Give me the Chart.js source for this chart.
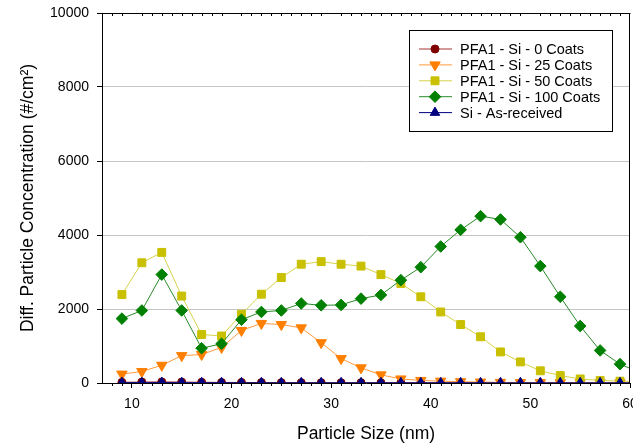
<!DOCTYPE html>
<html>
<head>
<meta charset="utf-8">
<script src="https://cdn.jsdelivr.net/npm/chart.js@4"></script>
<style>
  body { margin: 0; background: #fff; }
  #wrap { width: 633px; height: 448px; }
</style>
</head>
<body>
<div id="wrap"><canvas id="myChart" width="633" height="448"></canvas></div>
<script>
// particle size (nm)
var sizes = [9, 11, 13, 15, 17, 19, 21, 23, 25, 27, 29, 31, 33, 35, 37, 39, 41, 43, 45, 47, 49, 51, 53, 55, 57, 59, 61];

var coats0 = [20, 25, 30, 25, 20, 15, 15, 12, 10, 10, 8, 8, 8, 6, 6, 5, 5, 5, 5, 5, 5, 5, 5, 5, 5, 5, 5];
var coats25 = [240, 310, 480, 740, 770, 960, 1420, 1610, 1580, 1490, 1090, 660, 410, 220, 110, 70, 50, 35, 25, 18, 12, 10, 8, 6, 5, 5, 5];
var coats50 = [2390, 3250, 3530, 2350, 1310, 1270, 1860, 2400, 2850, 3210, 3280, 3210, 3160, 2930, 2690, 2330, 1920, 1580, 1250, 840, 570, 330, 200, 110, 70, 50, 40];
var coats100 = [1740, 1960, 2930, 1960, 940, 1060, 1710, 1920, 1960, 2150, 2100, 2110, 2280, 2380, 2780, 3130, 3690, 4140, 4510, 4420, 3940, 3160, 2330, 1540, 880, 510, 280];
var asReceived = [10, 10, 12, 10, 8, 8, 6, 6, 5, 5, 5, 5, 5, 5, 5, 5, 5, 5, 5, 5, 5, 5, 5, 5, 5, 5, 5];

var xTicks = [10, 20, 30, 40, 50, 60];
var yTicks = [0, 2000, 4000, 6000, 8000, 10000];

var FONT = '"Liberation Sans", Arial, sans-serif';

function pts(vals) {
  return vals.map(function (v, i) { return { x: sizes[i], y: v }; });
}

function series(label, vals, line, fill, style, radius, rot, order) {
  return {
    label: label,
    data: pts(vals),
    borderColor: line,
    backgroundColor: fill,
    borderWidth: 1,
    pointStyle: style,
    pointRadius: radius,
    pointRotation: rot,
    pointBackgroundColor: fill,
    pointBorderColor: fill,
    pointBorderWidth: 1,
    tension: 0,
    order: order
  };
}

// frame on top / right and minor ticks
var framePlugin = {
  id: "frame",
  afterDatasetsDraw: function (chart) {
    var ctx = chart.ctx;
    var a = chart.chartArea;
    var xs = chart.scales.x;
    ctx.save();
    ctx.strokeStyle = "#000";
    ctx.lineWidth = 1;
    ctx.beginPath();
    ctx.moveTo(a.left - 5, Math.round(a.top) + 0.5);
    ctx.lineTo(a.right + 0.5, Math.round(a.top) + 0.5);
    ctx.moveTo(Math.round(a.right) - 0.5, a.top);
    ctx.lineTo(Math.round(a.right) - 0.5, a.bottom);
    for (var v = 8; v < 60; v++) {
      if (v % 10 == 0) continue;
      var px = Math.round(xs.getPixelForValue(v)) + 0.5;
      ctx.moveTo(px, a.bottom);
      ctx.lineTo(px, a.bottom + 3);
      ctx.moveTo(px, a.top);
      ctx.lineTo(px, a.top + 3);
    }
    ctx.stroke();
    ctx.restore();
  }
};

var legendPlugin = {
  id: "boxLegend",
  afterDraw: function (chart) {
    var ctx = chart.ctx;
    var a = chart.chartArea;
    var bx = a.right - 221, by = a.top + 17, bw = 203, bh = 101;
    ctx.save();
    ctx.fillStyle = "#fff";
    ctx.fillRect(bx, by, bw, bh);
    ctx.strokeStyle = "#000";
    ctx.lineWidth = 1;
    ctx.strokeRect(bx + 0.5, by + 0.5, bw, bh);
    chart.data.datasets.forEach(function (ds, i) {
      var y = by + 19 + i * 15.9;
      ctx.strokeStyle = ds.borderColor;
      ctx.lineWidth = 1;
      ctx.beginPath();
      ctx.moveTo(bx + 10, y);
      ctx.lineTo(bx + 43, y);
      ctx.stroke();
      ctx.fillStyle = ds.pointBackgroundColor;
      ctx.strokeStyle = ds.pointBorderColor;
      Chart.helpers.drawPoint(ctx, {
        pointStyle: ds.pointStyle,
        radius: ds.pointRadius,
        rotation: ds.pointRotation,
        borderWidth: 1
      }, bx + 26, y);
      ctx.fillStyle = "#000";
      ctx.font = "14.5px " + FONT;
      ctx.textBaseline = "middle";
      ctx.textAlign = "left";
      ctx.fillText(ds.label, bx + 51, y + 1);
    });
    ctx.restore();
  }
};

var ctx = document.getElementById("myChart").getContext("2d");

var myChart = new Chart(ctx, {
  type: "line",
  plugins: [framePlugin, legendPlugin],
  data: {
    datasets: [
      series("PFA1 - Si - 0 Coats", coats0, "#a83232", "#800000", "circle", 4, 0, 5),
      series("PFA1 - Si - 25 Coats", coats25, "#ff9a3c", "#ff7f00", "triangle", 6, 180, 4),
      series("PFA1 - Si - 50 Coats", coats50, "#d6d24a", "#c8c000", "rect", 5.6, 0, 3),
      series("PFA1 - Si - 100 Coats", coats100, "#2a8a2a", "#008000", "rectRot", 5.8, 0, 2),
      series("Si - As-received", asReceived, "#000080", "#000080", "triangle", 5.5, 0, 1)
    ]
  },
  options: {
    responsive: false,
    animation: false,
    layout: {
      autoPadding: false,
      padding: { top: 13, right: 3, left: 0, bottom: 0 }
    },
    plugins: {
      legend: { display: false },
      tooltip: { enabled: false }
    },
    scales: {
      x: {
        type: "linear",
        min: 7,
        max: 60,
        afterBuildTicks: function (scale) {
          scale.ticks = xTicks.map(function (v) { return { value: v }; });
        },
        afterFit: function (scale) {
          scale.height = 65;
          scale.paddingLeft = 0;
          scale.paddingRight = 0;
        },
        grid: {
          drawOnChartArea: false,
          drawTicks: true,
          tickLength: 5,
          color: "#000"
        },
        border: { color: "#000", width: 1 },
        ticks: {
          color: "#000",
          padding: 8,
          maxRotation: 0,
          autoSkip: false,
          font: { family: FONT, size: 14 }
        },
        title: {
          display: true,
          text: "Particle Size (nm)",
          color: "#000",
          padding: { top: 0, bottom: 3 },
          font: { family: FONT, size: 17.5 }
        }
      },
      y: {
        min: 0,
        max: 10000,
        afterBuildTicks: function (scale) {
          scale.ticks = yTicks.map(function (v) { return { value: v }; });
        },
        afterFit: function (scale) {
          scale.width = 102;
          scale.paddingTop = 0;
          scale.paddingBottom = 0;
        },
        grid: {
          color: function (c) {
            if (c.tick && (c.tick.value == 0 || c.tick.value == 10000)) return "rgba(0,0,0,0)";
            return "#c4c4c4";
          },
          tickColor: "#000",
          tickLength: 5
        },
        border: { color: "#000", width: 1 },
        ticks: {
          color: "#000",
          padding: 8,
          autoSkip: false,
          font: { family: FONT, size: 14 },
          callback: function (v) { return String(v); }
        },
        title: {
          display: true,
          text: "Diff. Particle Concentration (#/cm²)",
          color: "#000",
          padding: { top: 18, bottom: 0 },
          font: { family: FONT, size: 17.5 }
        }
      }
    }
  }
});
</script>
</body>
</html>
